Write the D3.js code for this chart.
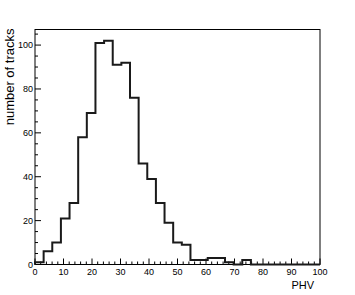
<!DOCTYPE html>
<html>
<head>
<meta charset="utf-8">
<script src="https://cdn.jsdelivr.net/npm/d3@7"></script>
<style>
  html, body { margin: 0; padding: 0; background: #fff; }
  svg { display: block; }
  text { font-family: "Liberation Sans", Arial, Helvetica, sans-serif; fill: #000; }
</style>
</head>
<body>
<svg id="chart" width="355" height="295"></svg>
<script>
// Histogram data: 33 equal-width bins over 0..100
const binCount = 33;
const xDomain = [0, 100];
const counts = [1, 6, 10, 21, 28, 58, 69, 101, 102, 91, 92, 76, 46, 39, 28, 19, 10, 9, 2, 2, 3, 3, 1, 0, 2, 0, 0, 0, 0, 0, 0, 0, 0];
const xTickLabels = [0, 10, 20, 30, 40, 50, 60, 70, 80, 90, 100];
const yTickLabels = [0, 20, 40, 60, 80, 100];
const xTitle = "PHV";
const yTitle = "number of tracks";

const svg = d3.select("#chart");
const frame = { left: 35, right: 320, top: 29.5, bottom: 264.5 };

const x = d3.scaleLinear().domain(xDomain).range([frame.left, frame.right]);
const yMax = d3.max(counts) * 1.05;
const y = d3.scaleLinear().domain([0, yMax]).range([frame.bottom, frame.top]);

const binW = (xDomain[1] - xDomain[0]) / binCount;

// Frame
svg.append("rect")
  .attr("x", frame.left).attr("y", frame.top)
  .attr("width", frame.right - frame.left).attr("height", frame.bottom - frame.top)
  .attr("fill", "none").attr("stroke", "#000").attr("stroke-width", 1);

// X axis ticks (inward, upward)
const xMinor = d3.range(0, 101, 2);
svg.append("g").selectAll("line").data(xMinor).join("line")
  .attr("x1", d => x(d)).attr("x2", d => x(d))
  .attr("y1", frame.bottom)
  .attr("y2", d => frame.bottom - (d % 10 === 0 ? 6 : 3))
  .attr("stroke", "#000").attr("stroke-width", 1);

svg.append("g").selectAll("text").data(xTickLabels).join("text")
  .attr("x", d => x(d)).attr("y", frame.bottom + 10)
  .attr("text-anchor", "middle")
  .attr("font-size", "9px")
  .text(d => d);

// Y axis ticks (inward, rightward)
const yMinor = d3.range(0, yMax, 5);
svg.append("g").selectAll("line").data(yMinor).join("line")
  .attr("y1", d => y(d)).attr("y2", d => y(d))
  .attr("x1", frame.left)
  .attr("x2", d => frame.left + (d % 20 === 0 ? 6 : 3))
  .attr("stroke", "#000").attr("stroke-width", 1);

svg.append("g").selectAll("text").data(yTickLabels).join("text")
  .attr("x", frame.left - 2).attr("y", d => y(d) + 3)
  .attr("text-anchor", "end")
  .attr("font-size", "9px")
  .text(d => d);

// Histogram outline
const pts = [[x(0), y(0)]];
counts.forEach((c, i) => {
  pts.push([x(i * binW), y(c)]);
  pts.push([x((i + 1) * binW), y(c)]);
});
pts.push([x(xDomain[1]), y(0)]);
svg.append("path")
  .attr("d", d3.line()(pts))
  .attr("fill", "none").attr("stroke", "#1a1a1a").attr("stroke-width", 2)
  .attr("stroke-linejoin", "miter");

// Axis titles
svg.append("text")
  .attr("x", 314).attr("y", 289)
  .attr("text-anchor", "end")
  .attr("font-size", "11px")
  .text(xTitle);

svg.append("text")
  .attr("transform", `translate(14, ${frame.top - 1}) rotate(-90)`)
  .attr("text-anchor", "end")
  .attr("font-size", "13px")
  .text(yTitle);
</script>
</body>
</html>
